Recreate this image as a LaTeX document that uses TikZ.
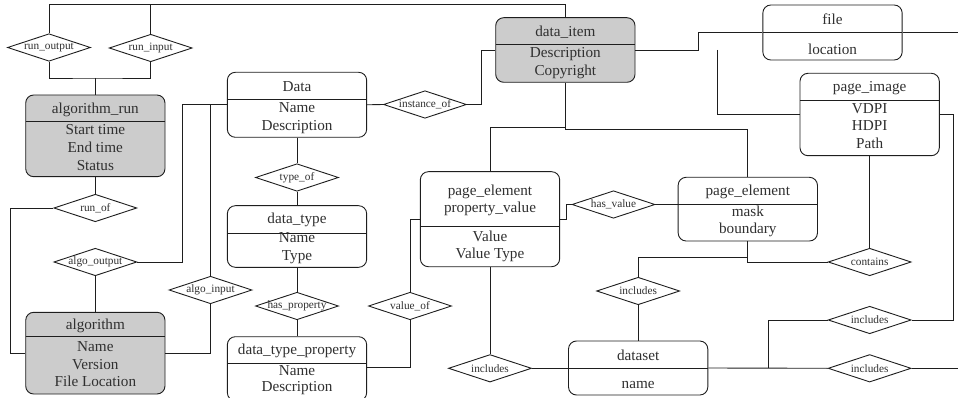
\documentclass[tikz,border=0pt]{standalone}
\usepackage{fontspec}
\setmainfont{Liberation Serif}
\usetikzlibrary{shapes.geometric}
\definecolor{ink}{HTML}{1E1E1E}
\definecolor{txt}{HTML}{303030}
\definecolor{shade}{HTML}{CCCCCC}
\tikzset{
 ent/.style={draw=ink, line width=0.9pt, rounded corners=8pt, fill=white, inner sep=0pt, minimum width=139.3pt},
 gent/.style={ent, fill=shade},
 rel/.style={diamond, draw=ink, line width=0.9pt, fill=white, inner sep=0pt, minimum width=83pt, minimum height=27.5pt},
 rtext/.style={text=txt, font=\fontsize{11.3}{13}\selectfont, inner sep=0pt},
 htext/.style={text=txt, font=\fontsize{15.2}{17.6}\selectfont, inner sep=0pt, align=center},
 conn/.style={draw=ink, line width=0.9pt},
 divl/.style={draw=ink, line width=0.9pt},
}
\begin{document}
\begin{tikzpicture}[x=1pt,y=-1pt]
\useasboundingbox (0,0) rectangle (958,398);

% ---------- entities ----------
\node[gent, minimum height=81.7pt] (algrun) at (95.35,135.85) {};
\draw[divl] (25.7,121.7) -- (165,121.7);
\node[htext] (algrun-h) at (95.35,110) {algorithm\_run};
\node[htext] (algrun-a) at (95.35,147.5) {Start time\\End time\\Status};

\node[gent, minimum height=81.7pt] (algo) at (95.35,353.15) {};
\draw[divl] (25.7,336.7) -- (165,336.7);
\node[htext] (algo-h) at (95.35,326) {algorithm};
\node[htext] (algo-a) at (95.35,364.2) {Name\\Version\\File Location};

\node[ent, minimum height=65pt] (data) at (297,104.8) {};
\draw[divl] (227.3,99) -- (366.7,99);
\node[htext] (data-h) at (297,86.7) {Data};
\node[htext] (data-a) at (297,117.9) {Name\\Description};

\node[ent, minimum height=61.6pt] (dtype) at (297,236.5) {};
\draw[divl] (227.3,233.3) -- (366.7,233.3);
\node[htext] (dtype-h) at (297,220) {data\_type};
\node[htext] (dtype-a) at (297,248.4) {Name\\Type};

\node[ent, minimum height=64pt] (dtp) at (297,368.7) {};
\draw[divl] (227.3,363.3) -- (366.7,363.3);
\node[htext] (dtp-h) at (297,350.7) {data\_type\_property};
\node[htext, font=\fontsize{15.2}{16.2}\selectfont] (dtp-a) at (297,380.5) {Name\\Description};

\node[gent, minimum height=64.6pt] (ditem) at (565.35,50) {};
\draw[divl] (495.7,44.3) -- (635,44.3);
\node[htext] (ditem-h) at (565.35,32.7) {data\_item};
\node[htext] (ditem-a) at (565.35,62.9) {Description\\Copyright};

\node[ent, minimum height=55pt] (file) at (832.5,32.5) {};
\draw[divl] (762.85,32.3) -- (902.15,32.3);
\node[htext] (file-h) at (832.5,19.3) {file};
\node[htext] (file-a) at (832.5,49.3) {location};

\node[ent, minimum height=82.4pt] (pimg) at (869.65,114.5) {};
\draw[divl] (800,100) -- (939.3,100);
\node[htext] (pimg-h) at (869.65,87.7) {page\_image};
\node[htext] (pimg-a) at (869.65,126) {VDPI\\HDPI\\Path};

\node[ent, minimum height=95pt] (pv) at (490,219.2) {};
\draw[divl] (420.35,226.7) -- (559.65,226.7);
\node[htext] (pv-h) at (490,200.4) {page\_element\\property\_value};
\node[htext] (pv-a) at (490,246.2) {Value\\Value Type};

\node[ent, minimum height=63.7pt] (pel) at (747.8,209.15) {};
\draw[divl] (678.15,204.3) -- (817.45,204.3);
\node[htext] (pel-h) at (747.8,191.7) {page\_element};
\node[htext] (pel-a) at (747.8,221.4) {mask\\boundary};

\node[ent, minimum height=54pt] (dataset) at (638.15,368) {};
\draw[divl] (568.5,368.3) -- (707.8,368.3);
\node[htext] (dataset-h) at (638.15,355) {dataset};
\node[htext] (dataset-a) at (638.15,385) {name};

% ---------- relationships ----------
\node[rel] (runout) at (49,47.5) {};
\node[rtext] at (runout) {run\_output};
\node[rel] (runin) at (150.7,48) {};
\node[rtext] at (runin) {run\_input};
\node[rel] (runof) at (95.35,208) {};
\node[rtext] at (runof) {run\_of};
\node[rel] (algoout) at (95.35,262) {};
\node[rtext] at (algoout) {algo\_output};
\node[rel] (algoin) at (210.5,290) {};
\node[rtext] at (algoin) {algo\_input};
\node[rel] (instof) at (425,104.5) {};
\node[rtext] at (instof) {instance\_of};
\node[rel] (typeof) at (297,177.5) {};
\node[rtext] at (typeof) {type\_of};
\node[rel] (hasprop) at (297,306) {};
\node[rtext] at (hasprop) {has\_property};
\node[rel] (valof) at (410,306) {};
\node[rtext] at (valof) {value\_of};
\node[rel] (hasval) at (613.5,204.5) {};
\node[rtext] at (hasval) {has\_value};
\node[rel] (inca) at (638.15,291) {};
\node[rtext] at (inca) {includes};
\node[rel] (incb) at (490,368.3) {};
\node[rtext] at (incb) {includes};
\node[rel] (contains) at (869.65,262) {};
\node[rtext] at (contains) {contains};
\node[rel] (incc) at (869.65,320) {};
\node[rtext] at (incc) {includes};
\node[rel] (incd) at (869.65,368.3) {};
\node[rtext] at (incd) {includes};

% ---------- connectors ----------
\coordinate (topy) at (0,4);
\coordinate (j1) at (95.35,78);
\coordinate (j2) at (565.35,127);
\coordinate (fileout) at (958,32.5);
\coordinate (incdout) at (958,368.3);

\draw[conn] (runout.north) -- (runout.north |- topy) -| (ditem.north);
\draw[conn] (runin.north) -- (runin.north |- topy);
\draw[conn] (runout.south) |- (j1) -| (runin.south);
\draw[conn] (j1) -- (algrun.north);
\draw[conn] (algrun.south) -- (runof.north);
\draw[conn] (runof.west) -- ++(-42.7,0) |- (algo.west);
\draw[conn] (algoout.south) -- (algo.north);
\draw[conn] (algoout.east) -- ++(45,0) |- (data.west);
\draw[conn] (algoin.north) |- (data.west);
\draw[conn] (algoin.south) |- (algo.east);
\draw[conn] (data.east) -- (instof.west);
\draw[conn] (instof.east) -- ++(14,0) |- (ditem.west);
\draw[conn] (data.south) -- (typeof.north);
\draw[conn] (typeof.south) -- (dtype.north);
\draw[conn] (dtype.south) -- (hasprop.north);
\draw[conn] (hasprop.south) -- (dtp.north);
\draw[conn] (valof.south) |- ([yshift=-31pt]dtp.north east);
\draw[conn] (valof.north) |- (pv.west);
\draw[conn] (pv.south) -- (incb.north);
\draw[conn] (incb.east) -- (incb.east -| dataset.west);
\draw[conn] (pv.east) -- ++(6.4,0) |- (hasval.west);
\draw[conn] (hasval.east) -- (hasval.east -| pel.west);
\draw[conn] (ditem.south) -- (j2) -| (pv.north);
\draw[conn] (j2) -- ++(0,2) -| (pel.north);
\draw[conn] (ditem.east) -- ++(63,0) |- (file.west);
\draw[conn] ([xshift=81.7pt]ditem.east) |- (pimg.west);
\draw[conn] (file.east) -- (fileout);
\draw[conn] (pimg.east) -- ++(13.4,0) |- (incc.east);
\draw[conn] (pimg.south) -- (contains.north);
\draw[conn] (pel.south) |- (contains.west);
\draw[conn] (inca.north) -- ++(0,-19.2) -| (pel.south);
\draw[conn] (inca.south) -- (dataset.north);
\draw[conn] (dataset.east) -- (incd.west);
\draw[conn] ([xshift=60.4pt]dataset.east) |- (incc.west);
\draw[conn] (incd.east) -- (incdout);
\end{tikzpicture}
\end{document}
